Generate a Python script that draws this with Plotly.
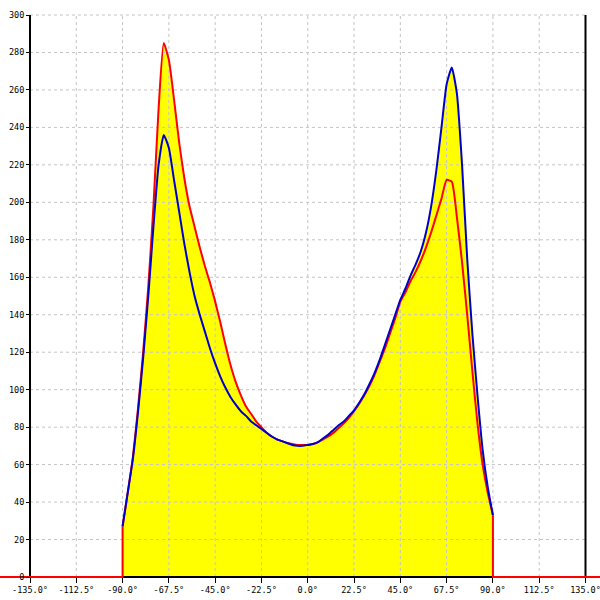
import plotly.graph_objects as go
import numpy as np

# ---------------- data ----------------
angles = [-90, -87.5, -85, -82.5, -80, -77.5, -75, -72.5, -70, -67.5, -65, -62.5, -60, -57.5,
          -55, -52.5, -50, -47.5, -45, -42.5, -40, -37.5, -35, -32.5, -30, -27.5, -25, -22.5,
          -20, -17.5, -15, -12.5, -10, -7.5, -5, -2.5, 0, 2.5, 5, 7.5, 10, 12.5, 15, 17.5,
          20, 22.5, 25, 27.5, 30, 32.5, 35, 37.5, 40, 42.5, 45, 47.5, 50, 52.5, 55, 57.5,
          60, 62.5, 65, 67.5, 70, 72.5, 75, 77.5, 80, 82.5, 85, 87.5, 90]

red_vals = [27, 45, 64, 90, 120, 155, 198, 250, 285, 276, 255, 232, 213, 198,
            187, 176, 166, 157, 147, 136, 124, 113, 104, 97, 91, 87, 83, 80,
            77, 75, 73.5, 72.5, 71.5, 71, 70.5, 70.5, 70.5, 71, 72, 73.5, 75, 77, 79.5, 82,
            85, 88.5, 92.5, 97, 102, 108, 115, 122, 130, 138, 147, 152, 158, 163, 169, 176,
            184, 193, 202, 212, 211, 192, 168, 140, 110, 82, 60, 45, 33]

blue_vals = [27, 45, 63, 88, 117, 150, 187, 220, 236, 229, 212, 195, 178, 163,
             150, 140, 131, 122, 114, 107, 101, 96, 92, 88.5, 86, 83, 81, 79,
             77, 75, 73.5, 72.5, 71.5, 70.5, 70, 70, 70.5, 71, 72, 74, 76, 78.5, 81, 83,
             86, 89, 93, 97.5, 103, 109, 116, 124, 132, 140, 148, 154, 161, 167, 174, 184,
             198, 217, 240, 263, 272, 258, 220, 170, 130, 97, 68, 48, 33]

x_ticks = [-135, -112.5, -90, -67.5, -45, -22.5, 0, 22.5, 45, 67.5, 90, 112.5, 135]
x_labels = ["-135.0°", "-112.5°", "-90.0°", "-67.5°", "-45.0°", "-22.5°", "0.0°",
            "22.5°", "45.0°", "67.5°", "90.0°", "112.5°", "135.0°"]
y_ticks = [0, 20, 40, 60, 80, 100, 120, 140, 160, 180, 200, 220, 240, 260, 280, 300]
outer_extent = 180  # red baseline continues to both sides

# ---------------- layout calibration ----------------
W = H = 600
x_left_px, x_right_px = 30.0, 585.5      # pixel of -135 and 135
y_zero_px, y_top_px = 577.0, 15.0         # pixel of 0 and 300
kx = (x_right_px - x_left_px) / (x_ticks[-1] - x_ticks[0])
x0 = x_left_px - x_ticks[0] * kx
ky = (y_zero_px - y_top_px) / (y_ticks[-1] - y_ticks[0])
xr = [(0 - x0) / kx, (W - x0) / kx]
yr = [(y_zero_px - H) / ky, (y_zero_px - 0) / ky]

xmin, xmax = x_ticks[0], x_ticks[-1]
ymin, ymax = y_ticks[0], y_ticks[-1]
spline = dict(shape="spline", smoothing=0.5)

fig = go.Figure()

# yellow fill under the envelope of both series
env = np.maximum(np.array(red_vals), np.array(blue_vals))
fig.add_trace(go.Scatter(x=angles, y=env, mode="lines", line=dict(width=0, **spline),
                         fill="tozeroy", fillcolor="#FFFF00", hoverinfo="skip",
                         showlegend=False))

# dashed grid
gx, gy = [], []
for t in y_ticks:
    if t == ymin:
        continue
    gx += [xmin, xmax, None]
    gy += [t, t, None]
for t in x_ticks[1:-1]:
    gx += [t, t, None]
    gy += [ymin, ymax, None]
fig.add_trace(go.Scatter(x=gx, y=gy, mode="lines",
                         line=dict(color="#c4c4c4", width=1, dash="3px,3px"),
                         hoverinfo="skip", showlegend=False))

# axis frame lines (left, right, bottom)
fig.add_trace(go.Scatter(x=[xmin, xmin, None, xmax, xmax, None, xmin, xmax],
                         y=[ymin, ymax, None, ymin, ymax, None, ymin, ymin],
                         mode="lines", line=dict(color="black", width=2),
                         hoverinfo="skip", showlegend=False))

# red series: zero baseline outside the measured range, then the measured curve
fig.add_trace(go.Scatter(x=[-outer_extent, angles[0], angles[0], None,
                            angles[-1], angles[-1], outer_extent],
                         y=[0, 0, red_vals[0], None, red_vals[-1], 0, 0], mode="lines",
                         line=dict(color="#FF0000", width=2), hoverinfo="skip",
                         showlegend=False))
fig.add_trace(go.Scatter(x=angles, y=red_vals, mode="lines",
                         line=dict(color="#FF0000", width=2, **spline), showlegend=False))
# blue series
fig.add_trace(go.Scatter(x=angles, y=blue_vals, mode="lines",
                         line=dict(color="#0000CC", width=2, **spline), showlegend=False))

font = dict(family="DejaVu Sans Mono", size=8.5, color="black")
fig.update_layout(
    width=W, height=H, margin=dict(l=0, r=0, t=0, b=0),
    paper_bgcolor="white", plot_bgcolor="white",
    xaxis=dict(range=xr, domain=[0, 1], anchor="free", position=(H - y_zero_px) / H,
               showgrid=False, zeroline=False, showline=False,
               ticks="outside", ticklen=5, tickwidth=1, tickcolor="black",
               tickvals=x_ticks, ticktext=x_labels, tickfont=font,
               ticklabeloverflow="allow"),
    yaxis=dict(range=yr, domain=[0, 1], anchor="free", position=x_left_px / W,
               showgrid=False, zeroline=False, showline=False,
               ticks="outside", ticklen=4, tickwidth=1, tickcolor="black",
               tickvals=y_ticks, ticktext=[str(v) for v in y_ticks], tickfont=font,
               ticklabeloverflow="allow"),
)

fig.write_html("out.html", config={"displayModeBar": False},
               post_script="document.body.style.margin='0px';")
